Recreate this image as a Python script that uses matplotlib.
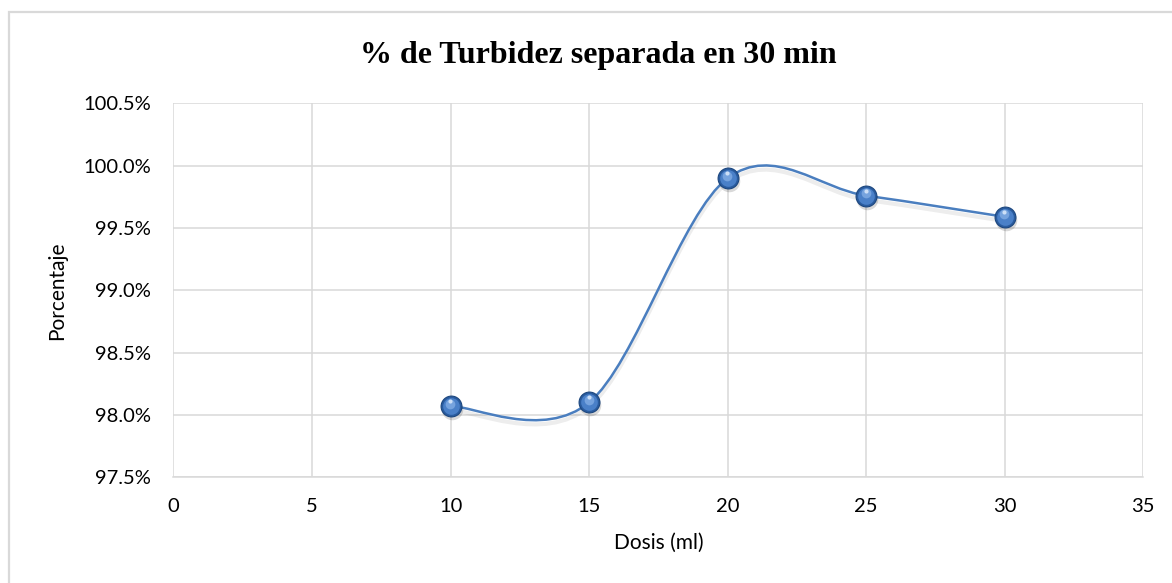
import numpy as np
import matplotlib
matplotlib.use("Agg")
import matplotlib.pyplot as plt
from matplotlib.path import Path
from matplotlib.patches import PathPatch, Rectangle
from matplotlib.ticker import FuncFormatter
import matplotlib.patheffects as pe
import matplotlib.transforms as mtransforms

# Dose (ml) and percentage of turbidity removed after 30 min
dosis = [10, 15, 20, 25, 30]
porcentaje = [98.07, 98.10, 99.90, 99.76, 99.59]

x_ticks = [0, 5, 10, 15, 20, 25, 30, 35]
y_ticks = [97.5, 98.0, 98.5, 99.0, 99.5, 100.0, 100.5]

titulo = "% de Turbidez separada en 30 min"
etiqueta_x = "Dosis (ml)"
etiqueta_y = "Porcentaje"

LINE_BLUE = "#4a7ebf"
SANS = ["Lato", "DejaVu Sans"]


def smooth_path(xs, ys):
    """Cubic Bezier path through the points (Catmull-Rom style smoothing)."""
    pts = np.column_stack([xs, ys]).astype(float)
    ext = np.vstack([pts[0], pts, pts[-1]])
    verts = [tuple(pts[0])]
    codes = [Path.MOVETO]
    for i in range(len(pts) - 1):
        p0, p1, p2, p3 = ext[i], ext[i + 1], ext[i + 2], ext[i + 3]
        c1 = p1 + (p2 - p0) / 6.0
        c2 = p2 - (p3 - p1) / 6.0
        verts += [tuple(c1), tuple(c2), tuple(p2)]
        codes += [Path.CURVE4] * 3
    return Path(verts, codes)


fig = plt.figure(figsize=(11.72, 5.83), dpi=100)
ax = fig.add_axes([0.148, 0.1815, 0.8275, 0.641])

# chart-area outline
fig.patches.append(Rectangle((8.5 / 1172, -0.05), 1.2, 1 - 12.5 / 583 + 0.05,
                             transform=fig.transFigure, fill=False,
                             edgecolor="#d9d9d9", linewidth=1.6))

ax.set_xlim(0, 35)
ax.set_ylim(97.5, 100.5)
ax.set_xticks(x_ticks)
ax.set_yticks(y_ticks)
ax.yaxis.set_major_formatter(FuncFormatter(lambda v, p: f"{v:.1f}%"))
ax.grid(True, color="#d9d9d9", linewidth=1.1)
ax.set_axisbelow(True)
for side in ("top", "right", "left"):
    ax.spines[side].set_visible(False)
ax.spines["bottom"].set_color("#d9d9d9")
ax.spines["bottom"].set_linewidth(1.1)
ax.tick_params(axis="both", length=0, labelsize=14.5, colors="#000000")
ax.tick_params(axis="x", pad=15)
ax.tick_params(axis="y", pad=16)
for lbl in ax.get_xticklabels() + ax.get_yticklabels():
    lbl.set_fontfamily(SANS)

# smoothed series line with soft shadow
curve = PathPatch(smooth_path(dosis, porcentaje), facecolor="none",
                  edgecolor=LINE_BLUE, linewidth=1.8, zorder=3,
                  path_effects=[pe.SimpleLineShadow(offset=(0, -3), shadow_color="#000000",
                                                    alpha=0.07, linewidth=3),
                                pe.Normal()])
ax.add_patch(curve)

# sphere-like markers: shadow, body, rim, highlight
shadow_off = mtransforms.ScaledTranslation(1 / 100, -3 / 100, fig.dpi_scale_trans)
ax.plot(dosis, porcentaje, "o", ms=15.5, color="#000000", alpha=0.15, mec="none",
        transform=ax.transData + shadow_off, zorder=4)
ax.plot(dosis, porcentaje, "o", ms=15, mfc="#2a5c9f", mec="#1d477f", mew=0.8, zorder=5)
ax.plot(dosis, porcentaje, "o", ms=12, mfc="#4a80c8", mec="none", zorder=6)
hl_off = mtransforms.ScaledTranslation(-0.5 / 100, 2.5 / 100, fig.dpi_scale_trans)
ax.plot(dosis, porcentaje, "o", ms=7, mfc="#7eaae2", mec="none", alpha=0.85,
        transform=ax.transData + hl_off, zorder=7)
hl_off2 = mtransforms.ScaledTranslation(-0.5 / 100, 5 / 100, fig.dpi_scale_trans)
ax.plot(dosis, porcentaje, "o", ms=3, mfc="#d6e6fa", mec="none", alpha=0.9,
        transform=ax.transData + hl_off2, zorder=8)

ax.set_xlabel(etiqueta_x, fontsize=15, family=SANS, labelpad=13)
ax.set_ylabel(etiqueta_y, fontsize=15, family=SANS, labelpad=12)

fig.text(598 / 1172, 1 - 55 / 583, titulo, ha="center", va="center", fontsize=23,
         fontweight="bold", family=["Liberation Serif", "DejaVu Serif"])

fig.savefig("out.png", dpi=100, facecolor="white")
